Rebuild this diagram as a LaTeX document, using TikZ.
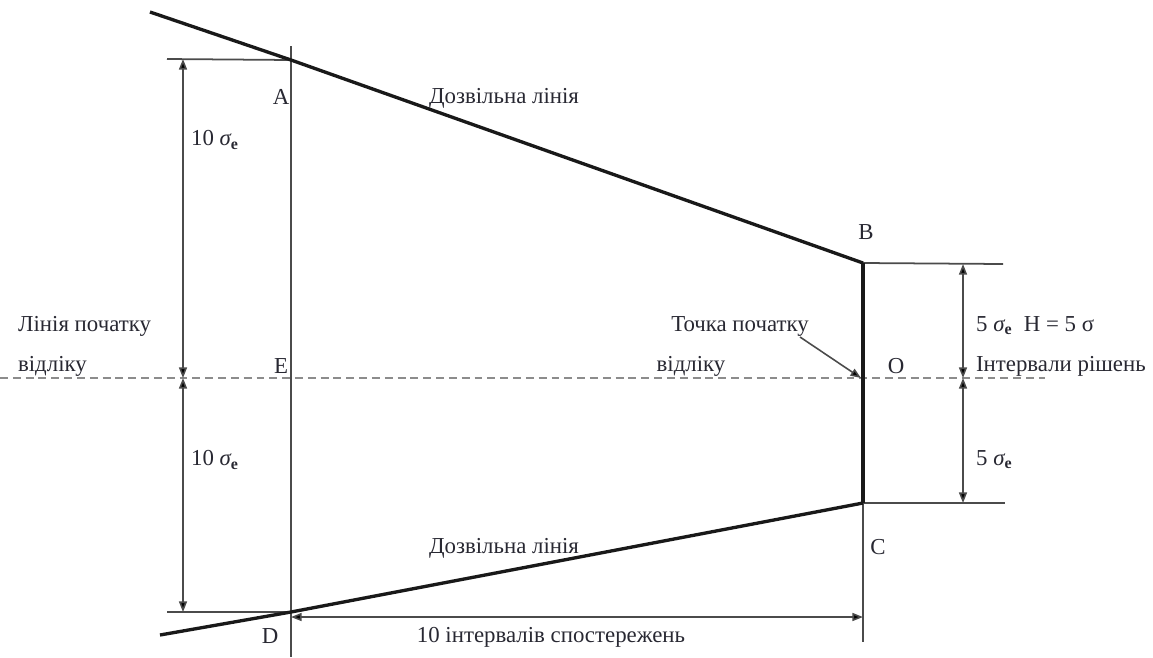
\documentclass[tikz,border=0pt]{standalone}
\usepackage{fontspec}
\setmainfont{Liberation Serif}
\usepackage{xcolor}
\definecolor{lngray}{RGB}{75,75,75}
\definecolor{dashgray}{RGB}{140,140,140}
\definecolor{txtgray}{RGB}{40,40,50}
\usetikzlibrary{arrows.meta, positioning, calc}

\begin{document}
\begin{tikzpicture}[x=0.02cm, y=-0.02cm,
  thinln/.style={draw=lngray, line width=1pt},
  thickln/.style={draw=black!90, line width=1.9pt},
  dimarr/.style={draw=lngray, line width=0.9pt,
    {Triangle[length=6pt,width=4.5pt,fill=black]}-{Triangle[length=6pt,width=4.5pt,fill=black]}},
  lbl/.style={font=\fontsize{13}{15}\selectfont, text=txtgray, inner sep=1pt}]

\useasboundingbox (0,0) rectangle (1153,657);

% ===== KEY POINTS =====
\coordinate (A) at (291,60);
\coordinate (B) at (863,263);
\coordinate (C) at (863,503);
\coordinate (D) at (291,612);
\coordinate (E) at (291,378);
\coordinate (O) at (863,378);
\coordinate (topL) at (150,12);
\coordinate (botL) at (160,635);
\coordinate (vTop) at (291,46);
\coordinate (vBot) at (291,657);
\coordinate (cBot) at (863,642);
\coordinate (aTick) at (167,59);
\coordinate (dTick) at (167,612);
\coordinate (bTick) at (1003,264);
\coordinate (cTick) at (1005,503);
\coordinate (dashL) at (0,378);
\coordinate (dashR) at (1045,378);

% Reference line (dashed)
\draw[dashgray, line width=0.8pt, dash pattern=on 4.5pt off 2.8pt] (dashL) -- (dashR);

% Vertical lines and ticks
\draw[thinln] (vTop) -- (vBot);
\draw[thinln] (C) -- (cBot);
\draw[thinln] (aTick) -- (A);
\draw[thinln] (dTick) -- (D);
\draw[thinln] (B) -- (bTick);
\draw[thinln] (C) -- (cTick);

% Boundary lines
\draw[thickln] (topL) -- (A) -- (B);
\draw[thickln] (botL) -- (D) -- (C);
\draw[thickln] (B) -- (C);

% ===== DIMENSIONS =====
\coordinate (aL) at (183,59);
\coordinate (eL) at (183,378);
\coordinate (dL) at (183,612);
\draw[dimarr] (aL) -- (eL);
\draw[dimarr] (eL) -- (dL);

\coordinate (bR) at (963,264);
\coordinate (oR) at (963,378);
\coordinate (cR) at (963,503);
\draw[dimarr] (bR) -- (oR);
\draw[dimarr] (oR) -- (cR);

\coordinate (dB) at (291,617);
\coordinate (cB) at (863,617);
\draw[dimarr] (dB) -- (cB);

% Pointer to origin
\coordinate (ptr) at (800,337);
\draw[lngray, line width=0.9pt, -{Triangle[length=6pt,width=4.5pt,fill=black]}] (ptr) -- ($(O)+(-2,0)$);

% ===== LABELS =====
\node[lbl] (lblA) at (281,97) {A};
\node[lbl] (lblE) at (281,366) {E};
\node[lbl] (lblD) at (270,636) {D};
\node[lbl] (lblB) at (866,232) {B};
\node[lbl] (lblC) at (878,547) {C};
\node[lbl] (lblO) at (896,366) {O};

\node[lbl] (perm1) at (504,98) {Дозвільна лінія};
\node[lbl] (perm2) at (504,548) {Дозвільна лінія};

\node[lbl, anchor=west] (up10) at (189,140) {10 {\itshape σ}\textsubscript{\bfseries e}};
\node[lbl, anchor=west] (lo10) at (189,460) {10 {\itshape σ}\textsubscript{\bfseries e}};

\node[lbl, anchor=west] (start1) at (16,326) {Лінія початку};
\node[lbl, anchor=west] (start2) at (16,366) {відліку};

\node[lbl] (orig1) at (740,326) {Точка початку};
\node[lbl] (orig2) at (691,366) {відліку};

\node[lbl, anchor=west] (up5) at (974,326) {5 {\itshape σ}\textsubscript{\bfseries e}\ \ H = 5 σ};
\node[lbl, anchor=west] (intv) at (974,366) {Інтервали рішень};
\node[lbl, anchor=west] (lo5) at (974,460) {5 {\itshape σ}\textsubscript{\bfseries e}};

\node[lbl] (obs) at (551,637) {10 інтервалів спостережень};

\end{tikzpicture}
\end{document}
